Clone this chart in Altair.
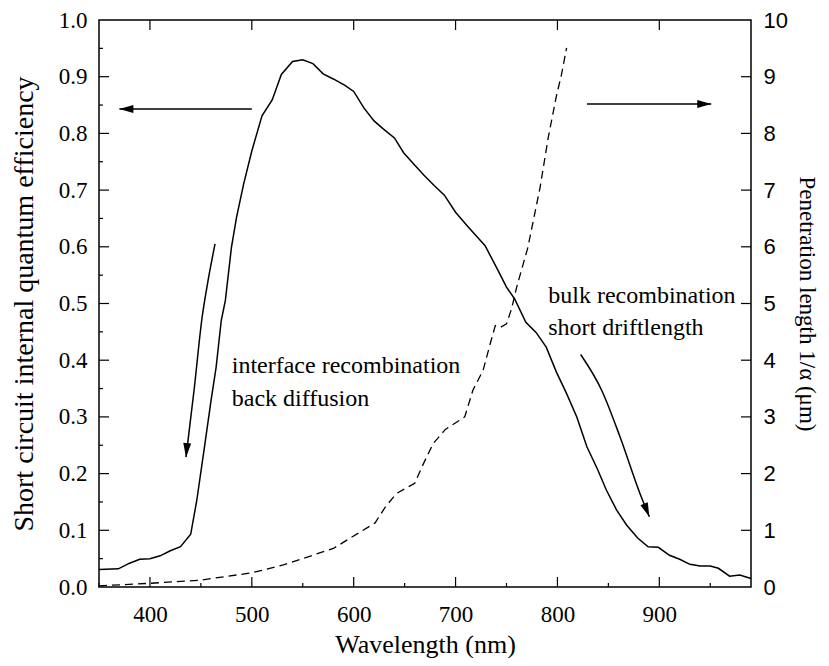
import altair as alt
import pandas as pd

# Solid curve: short circuit internal quantum efficiency (left axis)
qe_wavelength = [350, 369, 380, 390, 400, 410, 420, 430, 440, 446,
                 454, 460, 465, 470, 474, 480, 485, 492, 500, 510,
                 520, 529, 540, 550, 560, 570, 580, 591, 600, 610,
                 620, 629, 640, 649, 658, 669, 679, 689, 700, 712,
                 729, 740, 750, 758, 769, 779, 789, 799, 809, 819,
                 829, 839, 848, 858, 868, 879, 889, 899, 910, 920,
                 930, 940, 950, 958, 969, 979, 990]
qe_values = [0.031, 0.032, 0.042, 0.049, 0.050, 0.055, 0.064, 0.071, 0.093, 0.153,
             0.253, 0.329, 0.388, 0.470, 0.505, 0.599, 0.652, 0.711, 0.769, 0.831,
             0.859, 0.904, 0.927, 0.930, 0.923, 0.905, 0.896, 0.885, 0.874, 0.845,
             0.822, 0.808, 0.792, 0.766, 0.748, 0.726, 0.708, 0.691, 0.661, 0.636,
             0.602, 0.564, 0.529, 0.508, 0.467, 0.449, 0.423, 0.379, 0.341, 0.300,
             0.247, 0.209, 0.171, 0.136, 0.109, 0.086, 0.071, 0.070, 0.056, 0.049,
             0.040, 0.037, 0.037, 0.033, 0.019, 0.021, 0.015]

# Dashed curve: penetration length 1/alpha in um (right axis)
pl_wavelength = [350, 400, 449, 500, 531, 580, 621, 631, 642, 660,
                 667, 678, 690, 709, 717, 727, 734, 739, 744, 750,
                 755, 760, 771, 783, 791, 799, 804, 809]
pl_values = [0.02, 0.065, 0.12, 0.25, 0.39, 0.68, 1.13, 1.41, 1.65, 1.83,
             2.12, 2.53, 2.78, 3.0, 3.47, 3.82, 4.29, 4.61, 4.58, 4.64,
             4.91, 5.29, 5.99, 7.05, 7.93, 8.66, 9.04, 9.51]

# Axis ticks
x_major = [400, 500, 600, 700, 800, 900]
x_minor = [350, 450, 550, 650, 750, 850, 950]
y_left_labels = [0.0, 0.1, 0.2, 0.3, 0.4, 0.5, 0.6, 0.7, 0.8, 0.9, 1.0]
y_left_major = [0.1, 0.2, 0.3, 0.4, 0.5, 0.6, 0.7, 0.8, 0.9]
y_left_minor = [0.05, 0.15, 0.25, 0.35, 0.45, 0.55, 0.65, 0.75, 0.85, 0.95]
y_right_labels = [0, 1, 2, 3, 4, 5, 6, 7, 8, 9, 10]
y_right_major = [1, 2, 3, 4, 5, 6, 7, 8, 9]

# Annotation arrows (wavelength, QE-scale)
arrow_left_x = [500, 370]
arrow_left_y = [0.843, 0.843]
arrow_right_x = [829, 951]
arrow_right_y = [0.852, 0.852]
arrow_iface_x = [463.9, 457, 451.1, 443.3, 435.4]
arrow_iface_y = [0.605, 0.540, 0.474, 0.347, 0.229]
arrow_bulk_x = [822.8, 843.4, 861.4, 881, 890.2]
arrow_bulk_y = [0.410, 0.347, 0.265, 0.165, 0.124]

labels_text = ["interface recombination", "back diffusion",
               "bulk recombination", "short driftlength"]
labels_x = [480.3, 480.3, 791, 791]
labels_y = [0.377, 0.319, 0.5005, 0.4437]

W, H = 652, 567
SERIF = "Liberation Serif"
SANS = "Liberation Sans"

xscale = alt.Scale(domain=[350, 990], nice=False, zero=False)
yl_scale = alt.Scale(domain=[0, 1], nice=False, zero=False)
yr_scale = alt.Scale(domain=[0, 10], nice=False, zero=False)

x_axis = alt.Axis(values=x_major, ticks=False, domain=False, grid=False,
                  labelFont=SERIF, labelFontSize=23, labelPadding=16,
                  labelFlush=False, labelOverlap=False, labelColor="black",
                  title="Wavelength (nm)", titleFont=SERIF, titleFontSize=26,
                  titleFontWeight="normal", titleBaseline="alphabetic",
                  titleY=65, titleColor="black")
yl_axis = alt.Axis(values=y_left_labels, format=".1f", ticks=False, domain=False,
                   grid=False, labelFont=SERIF, labelFontSize=23, labelPadding=12,
                   labelFlush=False, labelOverlap=False, labelColor="black",
                   title="Short circuit internal quantum efficiency",
                   titleFont=SERIF, titleFontSize=28, titleFontWeight="normal",
                   titlePadding=20, titleColor="black")
yr_axis = alt.Axis(orient="right", values=y_right_labels, format="d", ticks=False,
                   domain=False, grid=False, labelFont=SANS, labelFontSize=22,
                   labelPadding=12, labelFlush=False, labelOverlap=False,
                   labelColor="black",
                   title="Penetration length 1/\u03b1 (\u03bcm)",
                   titleFont=SERIF, titleFontSize=23, titleFontWeight="normal",
                   titlePadding=7, titleColor="black")

X = alt.X("x:Q", scale=xscale, axis=x_axis)
YL = alt.Y("y:Q", scale=yl_scale, axis=yl_axis)
YR = alt.Y("y:Q", scale=yr_scale, axis=yr_axis)


def df(xs, ys=None):
    if ys is None:
        return pd.DataFrame({"x": xs})
    return pd.DataFrame({"x": xs, "y": ys})


qe_line = alt.Chart(df(qe_wavelength, qe_values)).mark_line(
    color="black", strokeWidth=1.5).encode(x=X, y=YL)

arrow_style = dict(color="black", strokeWidth=1.5)
a1 = alt.Chart(df(arrow_left_x, arrow_left_y)).mark_line(**arrow_style).encode(x=X, y=YL)
a2 = alt.Chart(df(arrow_right_x, arrow_right_y)).mark_line(**arrow_style).encode(x=X, y=YL)
a3 = alt.Chart(df(arrow_iface_x, arrow_iface_y)).mark_line(**arrow_style, interpolate="monotone").encode(x=X, y=YL)
a4 = alt.Chart(df(arrow_bulk_x, arrow_bulk_y)).mark_line(**arrow_style, interpolate="monotone").encode(x=X, y=YL)

HEAD = "M0,0L0.57,2L-0.57,2Z"


def head(xs, ys, ang):
    return alt.Chart(df(xs, ys)).mark_point(
        shape=HEAD, filled=True, size=196, angle=ang, color="black",
        opacity=1, strokeWidth=0).encode(x=X, y=YL)


h1 = head([arrow_left_x[-1]], [arrow_left_y[-1]], 270)
h2 = head([arrow_right_x[-1]], [arrow_right_y[-1]], 90)
h3 = head([arrow_iface_x[-1]], [arrow_iface_y[-1]], 185)
h4 = head([arrow_bulk_x[-1]], [arrow_bulk_y[-1]], 158)

texts = alt.Chart(pd.DataFrame({"x": labels_x, "y": labels_y, "t": labels_text})).mark_text(
    align="left", baseline="alphabetic", font=SERIF, fontSize=24, color="black"
).encode(x=X, y=YL, text="t:N")

tick_style = dict(color="black", strokeWidth=1.2)
xt_bot = alt.Chart(df(x_major)).mark_rule(**tick_style).encode(
    x=X, y=alt.value(H), y2=alt.value(H - 10))
xt_bot_minor = alt.Chart(df(x_minor)).mark_rule(**tick_style).encode(
    x=X, y=alt.value(H), y2=alt.value(H - 4))
xt_top = alt.Chart(df(x_major)).mark_rule(**tick_style).encode(
    x=X, y=alt.value(0), y2=alt.value(10))
yl_ticks = alt.Chart(pd.DataFrame({"y": y_left_major})).mark_rule(**tick_style).encode(
    y=YL, x=alt.value(0), x2=alt.value(10))
yl_ticks_minor = alt.Chart(pd.DataFrame({"y": y_left_minor})).mark_rule(**tick_style).encode(
    y=YL, x=alt.value(0), x2=alt.value(4))

layer_left = alt.layer(qe_line, a1, a2, a3, a4, h1, h2, h3, h4, texts,
                       xt_bot, xt_bot_minor, xt_top, yl_ticks, yl_ticks_minor)

pl_line = alt.Chart(df(pl_wavelength, pl_values)).mark_line(
    color="black", strokeWidth=1.3, strokeDash=[8, 5]).encode(x=X, y=YR)
yr_ticks = alt.Chart(pd.DataFrame({"y": y_right_major})).mark_rule(**tick_style).encode(
    y=YR, x=alt.value(W - 10), x2=alt.value(W))

layer_right = alt.layer(pl_line, yr_ticks)

chart = alt.layer(layer_left, layer_right).resolve_scale(y="independent").properties(
    width=W, height=H,
    autosize=alt.AutoSizeParams(type="none"),
    padding={"left": 91, "top": 12, "right": 70, "bottom": 71},
    background="white",
).configure_view(stroke="black", strokeWidth=1.5)

chart.save("out.html", embed_options={"renderer": "svg", "actions": False})
